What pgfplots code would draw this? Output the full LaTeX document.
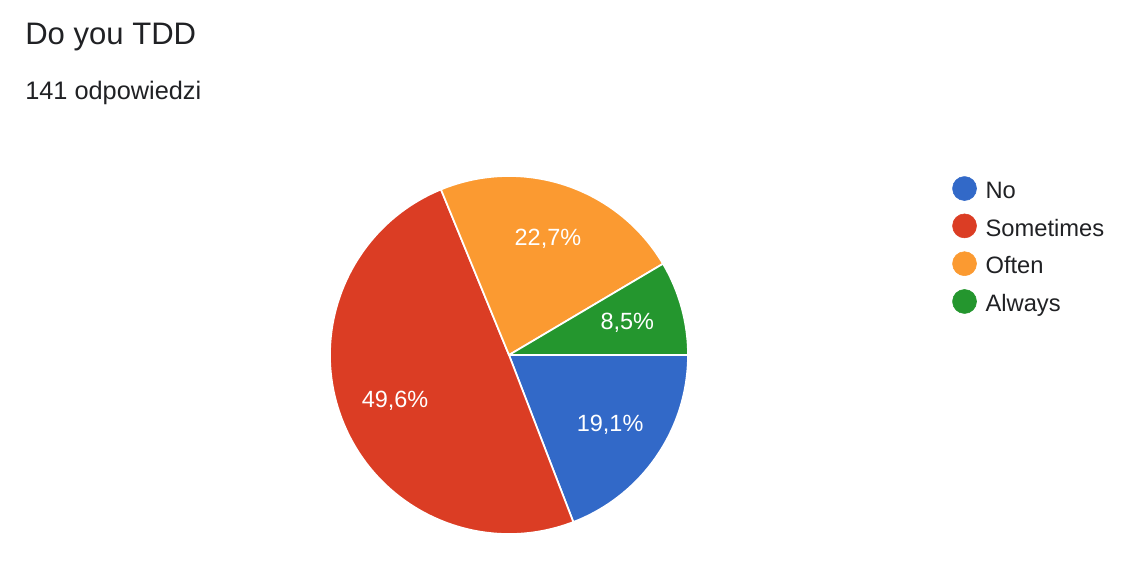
\documentclass[border=0pt]{standalone}
\usepackage{pgfplots}
\pgfplotsset{compat=1.18}
\usepackage{pgfplotstable}
\usepackage{fontspec}
\setmainfont{Liberation Sans}

\definecolor{cNo}{HTML}{3269C8}
\definecolor{cSo}{HTML}{DB3D24}
\definecolor{cOf}{HTML}{FB9A31}
\definecolor{cAl}{HTML}{24962E}
\definecolor{txt}{HTML}{202124}

% answers to "Do you TDD"
\pgfplotstableread{
label      value  color
No         27     cNo
Sometimes  70     cSo
Often      32     cOf
Always     12     cAl
}\piedata

% slice angles, worked out once before the axis
\gdef\pieTotal{0}
\foreach \i in {0,...,3}{
    \pgfplotstablegetelem{\i}{value}\of\piedata
    \pgfmathsetmacro\pieTmp{\pieTotal+\pgfplotsretval}
    \xdef\pieTotal{\pieTmp}
}
\gdef\pieCum{0}
\foreach \i in {0,...,3}{
    \pgfplotstablegetelem{\i}{value}\of\piedata \let\pieVal\pgfplotsretval
    \pgfplotstablegetelem{\i}{color}\of\piedata
    \expandafter\xdef\csname pieCol\i\endcsname{\pgfplotsretval}
    \pgfmathsetmacro\pieFrac{\pieVal/\pieTotal}
    \pgfmathsetmacro\pieEnd{\pieCum-360*\pieFrac}
    \pgfmathsetmacro\piePct{100*\pieFrac}
    \expandafter\xdef\csname pieA\i\endcsname{\pieCum}
    \expandafter\xdef\csname pieB\i\endcsname{\pieEnd}
    \expandafter\xdef\csname pieP\i\endcsname{\piePct}
    \xdef\pieCum{\pieEnd}
}

\begin{document}
\begin{tikzpicture}
\useasboundingbox (0,0) rectangle (855pt,439.5pt);
\begin{axis}[
    at={(0,0)}, anchor=south west,
    scale only axis,
    width=855pt, height=439.5pt,
    xmin=0, xmax=1140, ymin=0, ymax=586,
    hide axis,
    clip=false,
    legend style={at={(axis cs:952,410)}, anchor=north west,
        draw=none, fill=none, font=\fontsize{17.8}{20}\selectfont,
        text=txt, row sep=8pt, inner sep=0pt},
    legend cell align=left,
    legend image code/.code={
        \fill[#1] (9pt,1.95pt) circle (9pt);
        \path[draw=none, fill=none] (0pt,1.95pt) rectangle (22.75pt,1.95pt);},
]
\addlegendimage{cNo}\addlegendentry{No}
\addlegendimage{cSo}\addlegendentry{Sometimes}
\addlegendimage{cOf}\addlegendentry{Often}
\addlegendimage{cAl}\addlegendentry{Always}

\pgfplotsextra{
    \foreach \i in {0,...,3}{
        \edef\sa{\csname pieA\i\endcsname}
        \edef\sb{\csname pieB\i\endcsname}
        \edef\sc{\csname pieCol\i\endcsname}
        \pgfkeys{/pgf/fpu=false}
        \pgfmathsetmacro\sm{(\sa+\sb)/2}
        \fill[\sc, draw=white, line width=1.3pt, line join=round]
            (axis cs:509,231) -- ++(\sa:134.25pt)
            arc[start angle=\sa, end angle=\sb, radius=134.25pt] -- cycle;
        \path (axis cs:509,231) ++(\sm:92pt) node[text=white,
            font=\fontsize{17.6}{20}\selectfont]
            {\pgfmathprintnumber[fixed,precision=1,use comma,
              assume math mode=true]{\csname pieP\i\endcsname}\%};
    }
}

\node[anchor=base west, inner sep=0pt, text=txt,
      font=\fontsize{23.3}{26}\selectfont]
    at (axis cs:25,541) {Do you TDD};
\node[anchor=base west, inner sep=0pt, text=txt,
      font=\fontsize{19}{22}\selectfont]
    at (axis cs:25,486) {141 odpowiedzi};
\end{axis}
\end{tikzpicture}
\end{document}
